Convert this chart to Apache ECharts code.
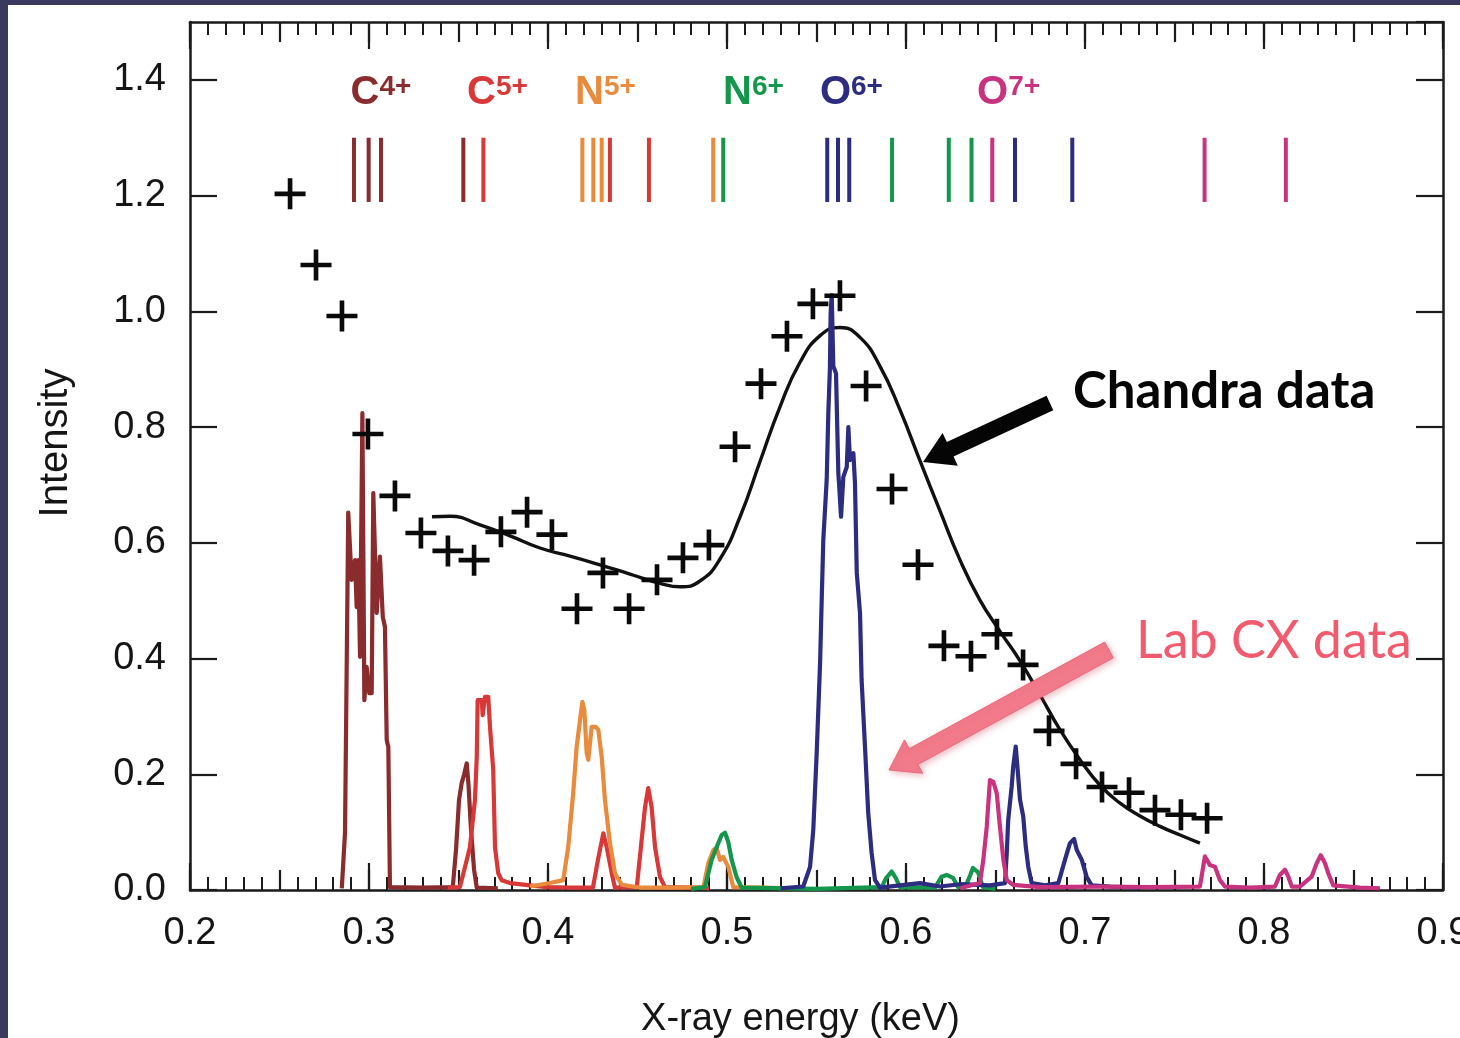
<!DOCTYPE html>
<html>
<head>
<meta charset="utf-8">
<script src="https://cdn.jsdelivr.net/npm/echarts@6/dist/echarts.min.js"></script>
<style>
  html, body { margin: 0; padding: 0; width: 1460px; height: 1038px; background: #393a5e; overflow: hidden; }
  #chart { position: absolute; left: 8px; top: 5px; width: 1452px; height: 1033px; background: #ffffff; }
</style>
</head>
<body>
<div id="chart"></div>
<script>
// Chandra observation: [energy keV, intensity]
const chandraData = [
  [0.2559,1.203],[0.2704,1.080],[0.2849,0.992],[0.2994,0.788],[0.3145,0.681],[0.3290,0.617],
  [0.3441,0.586],[0.3587,0.570],[0.3737,0.619],[0.3883,0.653],[0.4022,0.614],[0.4162,0.486],
  [0.4307,0.548],[0.4453,0.486],[0.4609,0.536],[0.4754,0.574],[0.4899,0.596],[0.5045,0.766],
  [0.5190,0.875],[0.5335,0.957],[0.5480,1.013],[0.5631,1.027],[0.5777,0.871],[0.5922,0.693],
  [0.6067,0.562],[0.6212,0.422],[0.6363,0.404],[0.6508,0.442],[0.6654,0.389],[0.6799,0.275],
  [0.6950,0.218],[0.7095,0.178],[0.7246,0.168],[0.7391,0.138],[0.7536,0.130],[0.7682,0.124]
];

// Model fit through the Chandra spectrum
const fitCurve = [
  [0.3352,0.645],[0.3453,0.646],[0.3620,0.631],[0.3788,0.612],[0.3955,0.591],[0.4123,0.577],
  [0.4290,0.562],[0.4458,0.546],[0.4626,0.530],[0.4737,0.524],[0.4849,0.534],[0.4961,0.572],
  [0.5073,0.645],[0.5184,0.740],[0.5296,0.835],[0.5408,0.912],[0.5520,0.958],[0.5631,0.972],
  [0.5743,0.955],[0.5855,0.905],[0.5966,0.830],[0.6078,0.742],[0.6190,0.655],[0.6302,0.570],
  [0.6413,0.501],[0.6525,0.447],[0.6637,0.396],[0.6749,0.337],[0.6860,0.277],[0.6972,0.225],
  [0.7084,0.181],[0.7196,0.150],[0.7307,0.128],[0.7419,0.110],[0.7531,0.095],[0.7642,0.081]
];

// Laboratory charge-exchange spectra, one per ion
const labC4 = [
  [0.2848,0.003],[0.2866,0.099],[0.2884,0.652],[0.2903,0.536],[0.2922,0.570],[0.2931,0.489],
  [0.2940,0.570],[0.2950,0.403],[0.2963,0.824],[0.2974,0.328],[0.2987,0.385],[0.3002,0.340],
  [0.3015,0.340],[0.3024,0.686],[0.3043,0.479],[0.3061,0.576],[0.3077,0.472],[0.3089,0.455],
  [0.3099,0.259],[0.3108,0.247],[0.3117,0.005],[0.3300,0.004],[0.3468,0.005],[0.3486,0.069],
  [0.3503,0.156],[0.3518,0.185],[0.3531,0.199],[0.3546,0.219],[0.3556,0.181],[0.3570,0.104],
  [0.3587,0.035],[0.3602,0.004],[0.3720,0.003]
];
const labC5 = [
  [0.3440,0.004],[0.3508,0.005],[0.3564,0.074],[0.3592,0.156],[0.3602,0.230],[0.3607,0.328],
  [0.3630,0.328],[0.3635,0.302],[0.3648,0.334],[0.3666,0.334],[0.3676,0.282],[0.3694,0.207],
  [0.3704,0.074],[0.3722,0.029],[0.3741,0.017],[0.3788,0.012],[0.3900,0.008],[0.3993,0.005],
  [0.4123,0.004],[0.4251,0.004],[0.4279,0.052],[0.4309,0.098],[0.4328,0.074],[0.4356,0.029],
  [0.4374,0.004],[0.4458,0.005],[0.4496,0.005],[0.4523,0.086],[0.4542,0.143],[0.4560,0.176],
  [0.4579,0.143],[0.4598,0.074],[0.4626,0.022],[0.4654,0.005],[0.4800,0.004],[0.4900,0.003]
];
const labN5 = [
  [0.3900,0.006],[0.4011,0.012],[0.4085,0.017],[0.4113,0.074],[0.4141,0.168],[0.4160,0.247],
  [0.4179,0.294],[0.4192,0.325],[0.4203,0.311],[0.4216,0.237],[0.4225,0.225],[0.4244,0.282],
  [0.4266,0.282],[0.4281,0.277],[0.4300,0.230],[0.4318,0.156],[0.4346,0.081],[0.4374,0.029],
  [0.4412,0.009],[0.4514,0.004],[0.4737,0.004],[0.4868,0.005],[0.4896,0.047],[0.4924,0.069],
  [0.4942,0.073],[0.4961,0.052],[0.4979,0.057],[0.5007,0.040],[0.5035,0.005],[0.5200,0.004],
  [0.5350,0.003]
];
const labN6 = [
  [0.4800,0.002],[0.4877,0.005],[0.4914,0.052],[0.4942,0.074],[0.4970,0.095],[0.4989,0.099],
  [0.5007,0.083],[0.5026,0.052],[0.5054,0.022],[0.5082,0.004],[0.5500,0.002],[0.5864,0.005],
  [0.5888,0.020],[0.5920,0.032],[0.5944,0.020],[0.5966,0.005],[0.6162,0.004],[0.6199,0.023],
  [0.6227,0.026],[0.6263,0.021],[0.6290,0.005],[0.6335,0.008],[0.6358,0.025],[0.6374,0.038],
  [0.6402,0.031],[0.6430,0.005],[0.6500,0.002]
];
const labO6 = [
  [0.5300,0.003],[0.5426,0.006],[0.5464,0.040],[0.5482,0.104],[0.5501,0.236],[0.5520,0.392],
  [0.5529,0.501],[0.5538,0.605],[0.5557,0.709],[0.5566,0.824],[0.5575,0.902],[0.5579,0.997],
  [0.5585,1.028],[0.5594,0.905],[0.5609,0.893],[0.5622,0.720],[0.5627,0.697],[0.5637,0.645],
  [0.5650,0.714],[0.5669,0.731],[0.5678,0.800],[0.5687,0.743],[0.5706,0.755],[0.5715,0.703],
  [0.5725,0.548],[0.5743,0.479],[0.5752,0.363],[0.5771,0.247],[0.5789,0.133],[0.5808,0.064],
  [0.5827,0.017],[0.5855,0.004],[0.5966,0.008],[0.6078,0.012],[0.6190,0.006],[0.6302,0.010],
  [0.6470,0.008],[0.6553,0.012],[0.6563,0.064],[0.6571,0.121],[0.6590,0.178],[0.6599,0.213],
  [0.6613,0.248],[0.6624,0.207],[0.6637,0.156],[0.6655,0.127],[0.6669,0.075],[0.6683,0.040],
  [0.6702,0.012],[0.6777,0.008],[0.6851,0.012],[0.6888,0.052],[0.6916,0.081],[0.6939,0.088],
  [0.6954,0.069],[0.6982,0.052],[0.7009,0.023],[0.7037,0.008],[0.7140,0.006],[0.7307,0.004]
];
const labO7 = [
  [0.6302,0.003],[0.6413,0.012],[0.6432,0.052],[0.6451,0.109],[0.6469,0.190],[0.6488,0.187],
  [0.6507,0.167],[0.6525,0.109],[0.6544,0.052],[0.6563,0.017],[0.6598,0.009],[0.6749,0.005],
  [0.7084,0.006],[0.7363,0.005],[0.7642,0.006],[0.7670,0.058],[0.7698,0.043],[0.7726,0.040],
  [0.7754,0.017],[0.7782,0.006],[0.7922,0.004],[0.8061,0.006],[0.8089,0.026],[0.8117,0.035],
  [0.8136,0.023],[0.8155,0.006],[0.8201,0.006],[0.8266,0.023],[0.8294,0.046],[0.8317,0.060],
  [0.8341,0.046],[0.8359,0.029],[0.8387,0.008],[0.8536,0.004],[0.8648,0.003]
];

// Ions: element, charge, colour, label position (keV, intensity)
const ionElement = ['C', 'C', 'N', 'N', 'O', 'O'];
const ionCharge = ['4+', '5+', '5+', '6+', '6+', '7+'];
const ionColors = ['#8a2b2d', '#d83838', '#e98a3c', '#14964c', '#2c2c80', '#c8327f'];
const ionLabelEnergy = [0.3067, 0.3718, 0.4321, 0.5148, 0.5695, 0.6573];
const ionLabelIntensity = [1.377, 1.377, 1.377, 1.377, 1.377, 1.377];

// Transition line markers: energy (keV) and ion index
const lineEnergy = [0.2916, 0.2998, 0.3067, 0.3527, 0.3639, 0.4192, 0.4253, 0.4300, 0.4346, 0.4564,
  0.4923, 0.4979, 0.5560, 0.5620, 0.5683, 0.5922, 0.6239, 0.6366, 0.6482, 0.6609, 0.6929, 0.7668, 0.8122];
const lineIon = [0, 0, 0, 0, 1, 2, 2, 2, 1, 1, 2, 3, 4, 4, 4, 3, 3, 3, 5, 4, 4, 5, 5];
const lineSpan = [1.189, 1.300];

const labSeries = [labC4, labC5, labN5, labN6, labO6, labO7];
const AXIS_FONT = '"Liberation Sans", Arial, Helvetica, sans-serif';
const NOTE_FONT = 'Lato, "Noto Sans", sans-serif';

const chart = echarts.init(document.getElementById('chart'), null, { renderer: 'canvas' });

const axisLine = { show: true, lineStyle: { color: '#1b1b1b', width: 2.5 } };
function xAxisDef(position, interval, tickLen, withLabels, withMinor, withLine) {
  return {
    type: 'value', position: position, min: 0.2, max: 0.9, interval: interval,
    axisLine: withLine ? axisLine : { show: false },
    axisTick: { show: true, inside: true, length: tickLen, lineStyle: { color: '#1b1b1b', width: 2.2 } },
    minorTick: { show: withMinor, splitNumber: 10, length: 13, lineStyle: { color: '#1b1b1b', width: 2 } },
    axisLabel: withLabels ? {
      show: true, margin: 25, color: '#151515', fontSize: 38, fontFamily: AXIS_FONT,
      hideOverlap: false, formatter: v => v.toFixed(1)
    } : { show: false },
    splitLine: { show: false }, minorSplitLine: { show: false }
  };
}
function yAxisDef(position, withLabels) {
  return {
    type: 'value', position: position, min: 0, max: 1.5, interval: 0.2,
    axisLine: axisLine,
    axisTick: { show: true, inside: true, length: 27, lineStyle: { color: '#1b1b1b', width: 2.2 } },
    axisLabel: withLabels ? {
      show: true, margin: 24, color: '#151515', fontSize: 38, fontFamily: AXIS_FONT,
      showMaxLabel: false, formatter: v => v.toFixed(1)
    } : { show: false },
    splitLine: { show: false }
  };
}

const xMain = xAxisDef('bottom', 0.1, 27, true, true, true);
xMain.name = 'X-ray energy (keV)';
xMain.nameLocation = 'middle';
xMain.nameGap = 111;
xMain.nameTextStyle = { fontSize: 38, color: '#151515', fontFamily: AXIS_FONT, padding: [0, 32, 0, 0] };
const yMain = yAxisDef('left', true);
yMain.name = 'Intensity';
yMain.nameLocation = 'middle';
yMain.nameGap = 114;
yMain.nameTextStyle = { fontSize: 40, color: '#151515', fontFamily: AXIS_FONT, padding: [0, 0, 0, 26] };

const series = [];
series.push({
  type: 'line', name: 'fit', data: fitCurve, smooth: 0.5, symbol: 'none',
  lineStyle: { color: '#111', width: 3.4 }, z: 2, silent: true
});
labSeries.forEach((d, i) => {
  series.push({
    type: 'line', name: ionElement[i] + ionCharge[i], data: d, symbol: 'none',
    lineStyle: { color: ionColors[i], width: 4.2, join: 'round' }, z: 3, silent: true
  });
});
series.push({
  type: 'scatter', name: 'Chandra', data: chandraData,
  symbol: 'path://M-2.4,-16L2.4,-16L2.4,-2.4L16,-2.4L16,2.4L2.4,2.4L2.4,16L-2.4,16L-2.4,2.4L-16,2.4L-16,-2.4L-2.4,-2.4Z',
  symbolSize: 31, itemStyle: { color: '#0a0a0a', opacity: 1 }, z: 5, silent: true
});
series.push({
  type: 'custom', name: 'lines', silent: true, z: 4,
  data: lineEnergy.map((e, i) => [e, lineIon[i]]),
  encode: { x: 0 },
  renderItem: function (params, api) {
    const e = api.value(0);
    const c = ionColors[api.value(1)];
    const p1 = api.coord([e, lineSpan[1]]);
    const p2 = api.coord([e, lineSpan[0]]);
    return { type: 'line', shape: { x1: p1[0], y1: p1[1], x2: p2[0], y2: p2[1] },
      style: { stroke: c, lineWidth: 4 } };
  }
});
series.push({
  type: 'custom', name: 'ions', silent: true, z: 4,
  data: ionLabelEnergy.map((e, i) => [e, ionLabelIntensity[i], i]),
  encode: { x: 0, y: 1 },
  renderItem: function (params, api) {
    const i = api.value(2);
    const p = api.coord([api.value(0), api.value(1)]);
    const c = ionColors[i];
    return {
      type: 'text', x: p[0], y: p[1],
      style: {
        text: '{a|' + ionElement[i] + '}{b|' + ionCharge[i] + '}',
        align: 'center', verticalAlign: 'middle',
        rich: {
          a: { fontSize: 40, fontWeight: 'bold', fontFamily: AXIS_FONT, fill: c },
          b: { fontSize: 28, fontWeight: 'bold', fontFamily: AXIS_FONT, fill: c, verticalAlign: 'top' }
        }
      }
    };
  }
});

chart.setOption({
  animation: false,
  backgroundColor: '#ffffff',
  grid: { left: 182, right: 17, top: 17, bottom: 148, containLabel: false, outerBoundsMode: 'none' },
  xAxis: [
    xMain,
    xAxisDef('bottom', 0.05, 20, false, false, false),
    xAxisDef('top', 0.1, 27, false, true, true),
    xAxisDef('top', 0.05, 20, false, false, false)
  ],
  yAxis: [yMain, yAxisDef('right', false)],
  series: series
});

// Callout arrows and captions, anchored in data space
function px(pt) { return chart.convertToPixel({ xAxisIndex: 0, yAxisIndex: 0 }, pt); }
function arrowPoints(tail, tip, halfShaft, halfHead, headLen) {
  const dx = tip[0] - tail[0], dy = tip[1] - tail[1];
  const L = Math.hypot(dx, dy);
  const ux = dx / L, uy = dy / L, nx = -uy, ny = ux;
  const bx = tip[0] - ux * headLen, by = tip[1] - uy * headLen;
  return [
    [tail[0] + nx * halfShaft, tail[1] + ny * halfShaft],
    [bx + nx * halfShaft, by + ny * halfShaft],
    [bx + nx * halfHead, by + ny * halfHead],
    [tip[0], tip[1]],
    [bx - nx * halfHead, by - ny * halfHead],
    [bx - nx * halfShaft, by - ny * halfShaft],
    [tail[0] - nx * halfShaft, tail[1] - ny * halfShaft]
  ];
}
const chandraArrow = { tail: [0.6804, 0.8417], tip: [0.6095, 0.7397] };
const labArrow = { tail: [0.7134, 0.4148], tip: [0.5905, 0.2074] };
const chandraCaption = [0.6933, 0.861];
const labCaption = [0.7285, 0.430];

const cPos = px(chandraCaption), lPos = px(labCaption);
chart.setOption({
  graphic: [
    { type: 'polygon', z: 20, silent: true,
      shape: { points: arrowPoints(px(chandraArrow.tail), px(chandraArrow.tip), 8, 18, 30) },
      style: { fill: '#050505' } },
    { type: 'polygon', z: 20, silent: true,
      shape: { points: arrowPoints(px(labArrow.tail), px(labArrow.tip), 9, 19, 28) },
      style: { fill: '#f27b8b', stroke: '#e9697c', lineWidth: 1,
        shadowBlur: 6, shadowColor: 'rgba(200,60,80,0.35)', shadowOffsetX: 2, shadowOffsetY: 2 } },
    { type: 'text', z: 21, silent: true, x: cPos[0], y: cPos[1],
      style: { text: 'Chandra data', fill: '#050505', font: 'bold 51px ' + NOTE_FONT,
        align: 'left', verticalAlign: 'middle' } },
    { type: 'text', z: 21, silent: true, x: lPos[0], y: lPos[1],
      style: { text: 'Lab CX data', fill: '#f45a6d', font: '52px ' + NOTE_FONT,
        align: 'left', verticalAlign: 'middle' } }
  ]
});
</script>
</body>
</html>
